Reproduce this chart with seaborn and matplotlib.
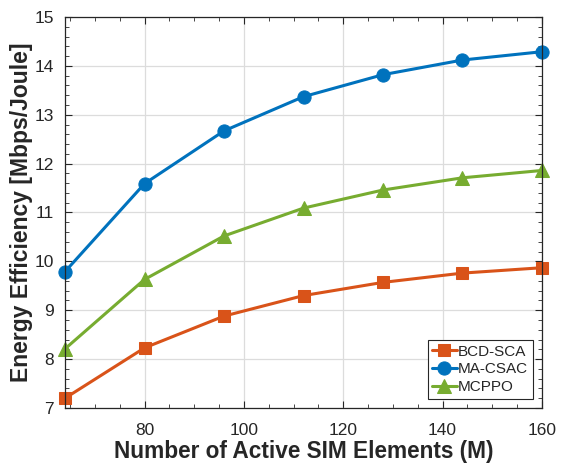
import matplotlib
matplotlib.use("Agg")
import matplotlib.pyplot as plt
import seaborn as sns
import pandas as pd
from matplotlib.ticker import MultipleLocator

# number of active SIM elements
m_values = [64, 80, 96, 112, 128, 144, 160]
bcd_sca = [7.20, 8.23, 8.88, 9.30, 9.57, 9.76, 9.87]
ma_csac = [9.79, 11.59, 12.67, 13.37, 13.82, 14.12, 14.29]
mcppo = [8.21, 9.63, 10.52, 11.09, 11.46, 11.71, 11.86]

series_names = ["BCD-SCA", "MA-CSAC", "MCPPO"]
palette = {"BCD-SCA": "#D95319", "MA-CSAC": "#0072BD", "MCPPO": "#77AC30"}
markers = {"BCD-SCA": "s", "MA-CSAC": "o", "MCPPO": "^"}
msizes = {"BCD-SCA": 8.5, "MA-CSAC": 9.5, "MCPPO": 10}

df = pd.DataFrame({
    "M": m_values * 3,
    "ee": bcd_sca + ma_csac + mcppo,
    "algo": [n for n in series_names for _ in m_values],
})

sns.set_style("ticks")
plt.rcParams["font.family"] = ["Liberation Sans", "DejaVu Sans"]

fig = plt.figure(figsize=(5.61, 4.66), dpi=100)
ax = fig.add_axes([0.1159, 0.1245, 0.8502, 0.839])

for name in series_names:
    sub = df[df["algo"] == name]
    sns.lineplot(data=sub, x="M", y="ee", ax=ax, color=palette[name],
                 marker=markers[name], markersize=msizes[name], linewidth=2.2,
                 markeredgecolor=palette[name], label=name, clip_on=False)

ax.set_xlim(64, 160)
ax.set_ylim(7, 15)
ax.xaxis.set_major_locator(MultipleLocator(20))
ax.xaxis.set_minor_locator(MultipleLocator(5))
ax.yaxis.set_major_locator(MultipleLocator(1))
ax.yaxis.set_minor_locator(MultipleLocator(0.2))
ax.grid(True, which="major", color="#dcdcdc", linewidth=0.9)
ax.set_axisbelow(True)

ax.tick_params(which="both", direction="in", top=True, right=True,
               colors="#262626", labelsize=12.5)
ax.tick_params(which="major", length=5)
ax.tick_params(which="minor", length=3)
ax.tick_params(axis="x", which="major", pad=11)
ax.tick_params(axis="y", which="major", pad=8)
for s in ax.spines.values():
    s.set_color("#262626")
    s.set_linewidth(0.9)

ax.set_xlabel("Number of Active SIM Elements (M)", fontsize=16.3,
              fontweight="bold", color="#262626", labelpad=1)
ax.set_ylabel("Energy Efficiency [Mbps/Joule]", fontsize=16.5,
              fontweight="bold", color="#262626", labelpad=1)

leg = ax.legend(loc="lower right", fontsize=11, frameon=True, fancybox=False,
                edgecolor="#262626", handlelength=1.6, handletextpad=0.1,
                borderpad=0.3, labelspacing=0.25, borderaxespad=0.6,
                framealpha=1)
leg.get_frame().set_linewidth(0.8)

fig.savefig("out.png", dpi=100)
